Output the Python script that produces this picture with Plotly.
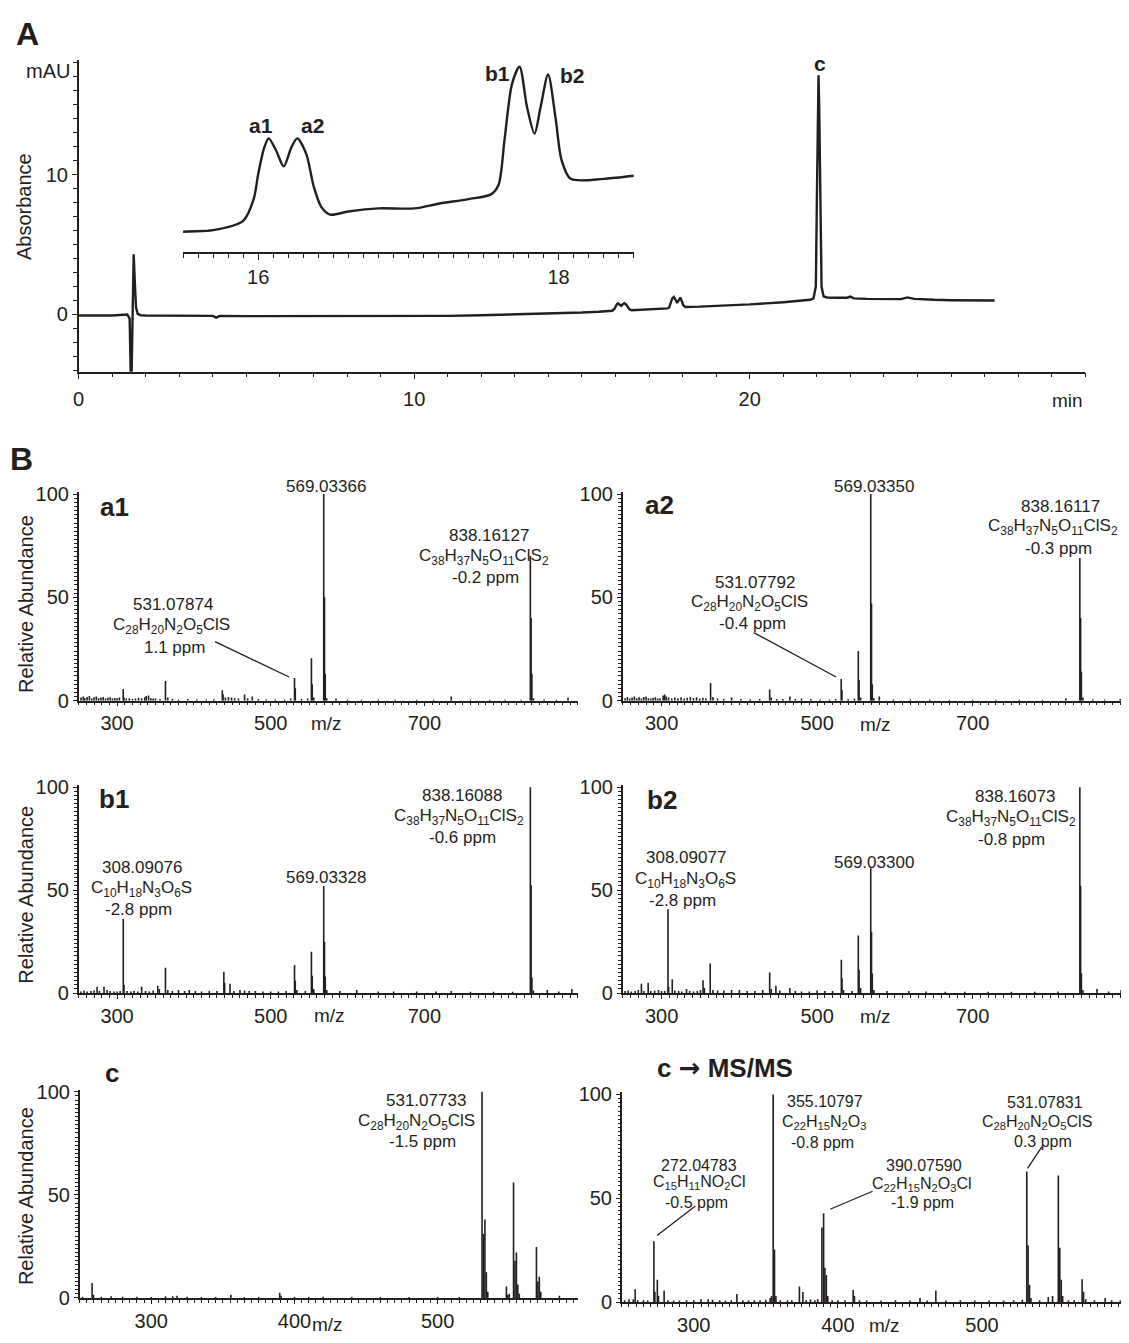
import plotly.graph_objects as go

W, H = 1129, 1343
OFF = 8  # page body margin of the html page
FONT = "Liberation Sans, Arial, Helvetica, sans-serif"
INK = "#231f20"

# ---------------- Panel A : UV chromatogram (min, mAU) ----------------
time_min = [0.0, 1.0, 1.45, 1.52, 1.565, 1.6, 1.64, 1.67, 1.71, 1.76, 1.85, 2.0, 3.0, 4.0, 4.1, 4.2,
            5.0, 6.0, 7.0, 8.0, 9.0, 10.0, 11.0, 12.0, 13.0, 14.0, 15.0, 15.5, 15.7, 15.9, 15.97,
            16.0, 16.04, 16.07, 16.12, 16.17, 16.22, 16.26, 16.32, 16.37, 16.42, 16.48, 16.6, 16.8,
            17.04, 17.2, 17.4, 17.55, 17.6, 17.64, 17.69, 17.74, 17.79, 17.84, 17.88, 17.93, 17.98,
            18.02, 18.08, 18.3, 18.5, 19.0, 20.0, 21.0, 21.5, 21.8, 21.9, 21.97, 22.0, 22.03, 22.05,
            22.07, 22.1, 22.14, 22.2, 22.3, 22.6, 22.9, 23.0, 23.1, 23.5, 24.0, 24.5, 24.7, 24.9,
            25.5, 26.0, 27.3]
absorbance_mau = [-0.07, -0.07, 0.0, -0.3, -6.0, 0.0, 4.3, 2.5, 0.5, 0.05, -0.05, -0.07, -0.08, -0.1, -0.22, -0.1,
                  -0.12, -0.12, -0.12, -0.12, -0.12, -0.12, -0.1, -0.05, 0.0, 0.08, 0.14, 0.20, 0.21, 0.27, 0.41,
                  0.57, 0.74, 0.80, 0.72, 0.62, 0.74, 0.80, 0.70, 0.49, 0.36, 0.31, 0.33, 0.35,
                  0.35, 0.38, 0.41, 0.44, 0.50, 0.79, 1.15, 1.26, 1.0, 0.83, 1.0, 1.21, 0.93,
                  0.66, 0.54, 0.54, 0.56, 0.62, 0.72, 0.88, 0.98, 1.05, 1.15, 2.0, 8.0, 15.0, 17.1,
                  15.0, 8.0, 2.0, 1.3, 1.22, 1.2, 1.2, 1.28, 1.15, 1.12, 1.1, 1.1, 1.22, 1.12,
                  1.05, 1.02, 1.0]
chrom_peak_labels = ["a1", "a2", "b1", "b2", "c"]
chrom_x_ticks = [0, 10, 20]
chrom_y_ticks = [0, 10]
inset_ticks = [16, 18]

# ---------------- Panel B : mass spectra (m/z, relative abundance) ----------------
a1_peaks = [(253, 1.5), (256, 2.0), (258, 1.2), (261, 1.8), (264, 2.2), (267, 1.0), (270, 1.6), (273, 2.0),
            (276, 1.2), (279, 1.5), (282, 1.8), (285, 1.0), (288, 1.4), (291, 1.6), (294, 1.1), (297, 1.3),
            (300, 1.2), (303, 1.5), (308, 5.7), (309, 1.5), (312, 1.0), (316, 1.2), (320, 0.8), (324, 1.0),
            (328, 1.4), (332, 1.2), (336, 1.6), (338, 2.2), (341, 2.5), (344, 1.2), (347, 1.0), (350, 1.0),
            (356, 0.8), (363, 9.5), (366, 1.5), (372, 0.8), (380, 0.6), (392, 0.8), (404, 0.6), (416, 0.6),
            (426, 0.7), (437, 5.0), (438, 3.0), (441, 1.5), (445, 1.8), (449, 1.5), (453, 1.2), (458, 1.0),
            (466, 3.0), (470, 1.2), (476, 2.0), (484, 0.8), (494, 0.6), (506, 0.6), (518, 0.6), (526, 1.0),
            (531, 11.0), (532, 6.0), (540, 0.8), (548, 1.0), (553, 20.5), (554, 8.0), (556, 1.5),
            (569, 100), (570, 50), (571, 13), (573, 1.2), (585, 1.0), (600, 0.6), (618, 0.5), (640, 0.6),
            (662, 0.5), (690, 0.5), (712, 0.5), (735, 2.0), (760, 0.5), (785, 0.5), (805, 0.5), (826, 0.5),
            (838, 70), (839, 40), (840, 13), (842, 1.2), (856, 0.6), (872, 0.5), (887, 1.5)]
a2_peaks = [(253, 1.2), (256, 1.8), (259, 1.0), (262, 1.5), (265, 2.0), (268, 1.2), (271, 1.6), (274, 1.0),
            (277, 1.8), (280, 2.0), (283, 1.2), (286, 1.0), (289, 1.4), (292, 1.6), (295, 1.0), (298, 1.2),
            (302, 2.5), (304, 3.0), (306, 2.0), (309, 1.5), (313, 1.0), (317, 1.5), (321, 1.2), (325, 1.6),
            (329, 1.0), (333, 1.4), (337, 1.8), (341, 1.2), (345, 1.6), (349, 1.0), (353, 1.4), (357, 1.0),
            (363, 8.5), (366, 1.8), (372, 1.0), (380, 0.8), (390, 1.5), (402, 0.8), (414, 0.7), (426, 0.8),
            (439, 5.4), (441, 1.5), (448, 0.8), (456, 0.8), (465, 2.0), (472, 0.8), (480, 1.0), (492, 0.8),
            (504, 0.6), (516, 0.6), (524, 0.8), (531, 10.5), (532, 5.0), (540, 0.8), (548, 1.0),
            (553, 24), (554, 10), (556, 1.5), (569, 100), (570, 47), (571, 8), (573, 1.2), (580, 2.0),
            (598, 0.6), (620, 0.6), (645, 0.6), (670, 0.5), (700, 0.5), (730, 0.5), (760, 0.5), (790, 0.5),
            (820, 1.2), (838, 69), (839, 40), (840, 14), (842, 1.5), (855, 0.6), (870, 0.6), (890, 0.8)]
b1_peaks = [(253, 0.8), (257, 1.2), (261, 0.8), (266, 1.0), (270, 1.2), (274, 3.0), (277, 1.0), (283, 3.0),
            (287, 1.5), (291, 1.0), (296, 0.8), (300, 0.8), (304, 1.0), (308.1, 36), (309, 4.0), (313, 1.0),
            (318, 0.8), (322, 1.0), (327, 0.8), (332, 3.0), (337, 1.0), (342, 0.8), (347, 1.2), (353, 3.5),
            (355, 2.0), (363, 12.3), (366, 1.5), (372, 1.0), (380, 1.5), (388, 1.0), (394, 1.5), (402, 1.0),
            (410, 0.8), (420, 1.0), (430, 1.0), (439, 10.4), (440, 5.0), (447, 4.5), (452, 1.0), (460, 1.5),
            (466, 1.2), (472, 1.0), (480, 1.0), (490, 0.8), (500, 0.8), (510, 0.8), (520, 1.0),
            (531, 13.6), (532, 6.0), (534, 1.5), (545, 1.0), (553, 20), (554, 8.4), (556, 2.0),
            (569, 52), (570, 24.8), (571, 8.0), (573, 1.5), (590, 1.0), (612, 1.5), (640, 0.8), (660, 0.8),
            (690, 0.8), (715, 0.8), (735, 1.0), (760, 0.6), (790, 0.6), (815, 0.6),
            (838, 100), (839, 52.3), (840, 7.6), (842, 1.2), (860, 1.5), (875, 0.8), (892, 2.0)]
b2_peaks = [(253, 1.0), (257, 1.2), (261, 0.8), (266, 1.0), (270, 1.5), (274, 4.5), (277, 1.0), (282.7, 5.0),
            (286, 1.0), (291, 1.2), (296, 1.5), (300, 1.0), (304, 1.0), (308.2, 40.7), (309, 3.0), (313.7, 6.7),
            (317, 1.2), (322, 1.0), (326, 0.8), (332, 2.0), (336, 1.0), (341, 0.8), (346, 1.0), (350, 1.5),
            (353.3, 6.2), (355, 2.5), (362.5, 14.3), (366, 1.5), (372, 1.2), (380, 1.2), (390, 1.5), (400, 1.5),
            (410, 1.0), (420, 1.0), (430, 1.5), (439, 10), (441, 2.0), (447, 3.5), (452, 1.2), (465, 2.5),
            (472, 1.0), (480, 0.8), (490, 0.8), (500, 1.2), (510, 1.0), (520, 1.0),
            (531.2, 16.2), (532, 7.2), (534, 1.5), (545, 1.0), (553, 27.9), (554, 11.3), (556, 2.5),
            (569, 60.6), (570, 29.8), (571, 9.5), (573, 1.5), (590, 1.0), (618, 1.0), (640, 0.8), (665, 0.6),
            (690, 0.6), (720, 0.6), (750, 0.6), (780, 0.6), (810, 0.8),
            (838, 100), (839, 52), (840, 9.6), (842, 1.5), (860, 2.0), (875, 0.8), (891, 1.5)]
c_peaks = [(252, 0.6), (258.7, 7.2), (259.7, 1.5), (265, 0.6), (272, 0.8), (280, 0.6), (290, 0.6), (300, 0.5),
           (310, 0.8), (315, 0.8), (318, 1.0), (325, 0.6), (335, 0.5), (345, 0.5), (355.6, 1.5), (365, 0.5),
           (375, 0.5), (389.7, 2.5), (390.7, 1.0), (400, 0.5), (410, 0.5), (420, 0.6), (440, 0.5), (460, 0.5),
           (480, 0.5), (500, 0.5), (515, 0.5),
           (531, 100), (532, 31), (533, 38), (534, 12.5), (535, 3),
           (548, 5.6), (549, 1.5), (550, 2.0),
           (553, 56), (554, 18), (555, 22), (556, 6.5), (557, 2),
           (569, 24.7), (570, 8), (571, 10.3), (572, 3), (585, 1.0)]
cms_peaks = [(252, 1.0), (255, 1.5), (258, 1.5), (259.3, 6.3), (261, 1.0), (265, 1.0), (268, 0.8),
             (272.3, 29.4), (273, 5), (274.7, 10.8), (275.5, 3), (279.4, 5.7), (282, 1.0), (286, 0.8),
             (290, 0.8), (295, 1.0), (300, 1.0), (305, 1.5), (310, 1.5), (313, 1.2), (318, 1.0), (322, 0.8),
             (326, 1.0), (329.9, 4.0), (334, 1.0), (338, 0.8), (342, 1.0), (346, 1.0), (350, 1.2), (353, 2.0),
             (354, 3.0), (355.1, 100), (356, 25.3), (357, 3.0), (360, 1.0), (365, 1.0), (368, 1.0),
             (373.3, 7.6), (375.7, 4.9), (378, 1.0), (381, 1.5), (384, 1.0), (386, 1.5),
             (388.9, 36), (390.1, 42.8), (391, 16.6), (392, 13.1), (393, 3), (396, 1.0), (400, 1.0),
             (405, 1.0), (410.6, 5.9), (411.5, 3), (415, 1.0), (420, 0.8), (430, 0.8), (440, 1.0), (450, 0.8),
             (457, 2.0), (462, 0.8), (468, 5.7), (475, 0.8), (485, 1.0), (495, 0.8), (505, 0.8), (515, 0.8),
             (522, 1.0), (528, 1.2), (531.1, 62.9), (532, 27.3), (533, 8.4), (534, 2.0), (540, 1.0),
             (546, 2.5), (549, 3.0), (553, 61), (554, 26.2), (555, 10.8), (556, 3.0), (560, 1.0), (564, 1.0),
             (569.5, 11.1), (570.5, 5.0), (572, 1.5), (578, 1.0), (585.5, 2.0), (590, 1.0), (596, 0.8)]

F838 = "C<sub>38</sub>H<sub>37</sub>N<sub>5</sub>O<sub>11</sub>ClS<sub>2</sub>"
F531 = "C<sub>28</sub>H<sub>20</sub>N<sub>2</sub>O<sub>5</sub>ClS"
F308 = "C<sub>10</sub>H<sub>18</sub>N<sub>3</sub>O<sub>6</sub>S"
F355 = "C<sub>22</sub>H<sub>15</sub>N<sub>2</sub>O<sub>3</sub>"
F272 = "C<sub>15</sub>H<sub>11</sub>NO<sub>2</sub>Cl"
F390 = "C<sub>22</sub>H<sub>15</sub>N<sub>2</sub>O<sub>3</sub>Cl"

a1_texts = ["569.03366", "838.16127", F838, "-0.2 ppm", "531.07874", F531, "1.1 ppm"]
a2_texts = ["569.03350", "838.16117", F838, "-0.3 ppm", "531.07792", F531, "-0.4 ppm"]
b1_texts = ["838.16088", F838, "-0.6 ppm", "569.03328", "308.09076", F308, "-2.8 ppm"]
b2_texts = ["838.16073", F838, "-0.8 ppm", "569.03300", "308.09077", F308, "-2.8 ppm"]
c_texts = ["531.07733", F531, "-1.5 ppm"]
cms_texts = ["355.10797", F355, "-0.8 ppm", "531.07831", F531, "0.3 ppm",
             "272.04783", F272, "-0.5 ppm", "390.07590", F390, "-1.9 ppm"]
panel_names = ["a1", "a2", "b1", "b2", "c",
               "c <span style='font-family:DejaVu Sans'>\u2192</span> MS/MS"]
ms_ticks_wide = [300, 500, 700]
ms_ticks_narrow = [300, 400, 500]
ab_ticks = [0, 50, 100]


def px(x):
    return (x - OFF) / W


def py(y):
    return 1 - (y - OFF) / H


def sticks(peaks):
    xs, ys = [], []
    for m, h in peaks:
        xs += [m, m, None]
        ys += [0, h, None]
    return xs, ys


fig = go.Figure()

# chromatogram + enlarged inset drawn from the same data
fig.add_trace(go.Scatter(x=time_min, y=absorbance_mau, mode="lines", xaxis="x", yaxis="y",
                         line=dict(color=INK, width=2.4), hoverinfo="skip"))
fig.add_trace(go.Scatter(x=time_min, y=absorbance_mau, mode="lines", xaxis="x2", yaxis="y2",
                         line=dict(color=INK, width=2.4, shape="spline", smoothing=0.8), hoverinfo="skip"))

spectra = [a1_peaks, a2_peaks, b1_peaks, b2_peaks, c_peaks, cms_peaks]
for i, pk in enumerate(spectra):
    xs, ys = sticks(pk)
    n = i + 3
    fig.add_trace(go.Scatter(x=xs, y=ys, mode="lines", xaxis=f"x{n}", yaxis=f"y{n}",
                             line=dict(color=INK, width=1.6), hoverinfo="skip"))

tickfont = dict(family=FONT, size=20, color=INK)


def axis(domain, rng, anchor, tickvals=None, dtick_minor=None, ticklen=5, minorlen=3,
         standoff=0, visible=True, linewidth=1.5):
    d = dict(domain=domain, range=rng, anchor=anchor, showgrid=False, zeroline=False, fixedrange=True,
             visible=visible)
    if visible:
        d.update(showline=True, linecolor=INK, linewidth=linewidth, ticks="outside", tickcolor=INK,
                 tickwidth=1.2, ticklen=ticklen, tickmode="array", tickvals=tickvals,
                 ticktext=[str(v) for v in tickvals],
                 tickfont=tickfont, ticklabelstandoff=standoff,
                 minor=dict(dtick=dtick_minor, tick0=0, ticks="outside", ticklen=minorlen,
                            tickcolor=INK, tickwidth=1, showgrid=False))
    return d


layout = dict(width=W, height=H, margin=dict(l=0, r=0, t=0, b=0), paper_bgcolor="white",
              plot_bgcolor="rgba(0,0,0,0)", showlegend=False)

# Panel A axes
layout["xaxis"] = axis([px(73), px(1085)], [0, 30], "y", chrom_x_ticks, 1, 6, 3.5, standoff=3)
layout["yaxis"] = axis([py(368), py(52)], [-4.085, 18.17], "x", chrom_y_ticks, 1, 5, 3.5)
layout["xaxis2"] = axis([px(178), px(631)], [15.5, 18.5], "y2", inset_ticks, 0.1, 6, 4)
layout["yaxis2"] = axis([py(247), py(40)], [0.0671, 1.377], "x2", visible=False)

# Panel B axes: (x-domain px, x-range, y-zero px, px per unit, ticks, minor)
spec_geo = [
    ((73, 575), (250, 900), 702.0, 2.097, ms_ticks_wide, 10),
    ((620, 1128), (250, 900), 702.0, 2.097, ms_ticks_wide, 10),
    ((73, 575), (250, 900), 998.8, 2.09, ms_ticks_wide, 10),
    ((620, 1128), (250, 900), 998.8, 2.09, ms_ticks_wide, 10),
    ((74, 575), (250, 598), 1308.3, 2.093, ms_ticks_narrow, 5),
    ((619, 1126), (250, 600), 1312.7, 2.11, ms_ticks_narrow, 5),
]
for i, (xd, xr, y0, sc, tv, mn) in enumerate(spec_geo):
    n = i + 3
    ytop = y0 - 101 * sc
    layout[f"xaxis{n}"] = axis([px(xd[0]), px(xd[1])], list(xr), f"y{n}", tv, mn, 4, 3)
    layout[f"yaxis{n}"] = axis([py(y0), py(ytop)], [0, 101], f"x{n}", ab_ticks, 2, 4, 2.5)

fig.update_layout(**layout)


def txt(s, x, y, size=17, bold=False, xanchor="center", angle=0):
    fig.add_annotation(text=f"<b>{s}</b>" if bold else s, x=px(x), y=py(y), xref="paper", yref="paper",
                       showarrow=False, xanchor=xanchor, yanchor="middle", textangle=angle,
                       font=dict(family=FONT, size=size, color=INK))


def leader(x0, y0, x1, y1):
    fig.add_shape(type="line", xref="paper", yref="paper", x0=px(x0), y0=py(y0), x1=px(x1), y1=py(y1),
                  line=dict(color=INK, width=1.3))


# Panel A texts
txt("A", 22, 25, 32, bold=True)
txt("mAU", 66, 63, 20, xanchor="right")
txt("Absorbance", 18, 200, 20, angle=-90)
txt("min", 1067, 397, 19)
for lab, (x, y) in zip(chrom_peak_labels, [(256, 118), (308, 118), (494, 65), (569, 67), (818, 55)]):
    txt(lab, x, y, 21, bold=True)

# Panel B texts
txt("B", 16, 457, 32, bold=True)
for y in (604, 899, 1205):
    txt("Relative Abundance", 20, y, 20, angle=-90)
for (x, y) in [(322.6, 725), (874.5, 726.7), (325, 1021.7), (874.5, 1023), (323.4, 1335), (882.8, 1336.7)]:
    txt("m/z", x, y, 19)
for lab, (x, y) in zip(panel_names, [(109, 505), (656.6, 503), (109, 801.7), (659, 803.3), (107, 1080),
                                     (723, 1075)]):
    txt(lab, x, y, 26, bold=True)

pos = {
    "a1": [(321.7, 485), (485.3, 534), (480.4, 556), (482, 577), (168.3, 604), (166.3, 626), (169, 648)],
    "a2": [(872.3, 485), (1060, 505), (1053, 526), (1058, 548), (752.5, 582), (747.5, 603), (750, 624)],
    "b1": [(458, 798), (455.3, 820), (459.3, 841), (321.7, 882), (136.3, 871), (135.8, 893), (133.2, 914)],
    "b2": [(1013.9, 799.3), (1010.5, 821), (1011, 842.5), (872.3, 866.7), (683.4, 861.7), (682.7, 884),
           (680.5, 905)],
    "c": [(421.7, 1108.3), (413.1, 1129.3), (419, 1150)],
    "cms": [(823.1, 1109), (822.8, 1130), (821.3, 1151), (1044.2, 1110), (1036, 1130), (1042.5, 1149),
            (696.6, 1174), (696.9, 1191.5), (694, 1211), (923, 1174), (920.8, 1193), (921.2, 1211)],
}
for texts, key in [(a1_texts, "a1"), (a2_texts, "a2"), (b1_texts, "b1"), (b2_texts, "b2"),
                   (c_texts, "c"), (cms_texts, "cms")]:
    size = 16 if key == "cms" else 17
    for s, (x, y) in zip(texts, pos[key]):
        txt(s, x, y, size)

leader(210.1, 642, 284.6, 678)
leader(751.8, 633, 834.5, 678)
leader(1041.3, 1155, 1027, 1176.7)
leader(693, 1215, 654.5, 1245)
leader(871.2, 1200, 828.5, 1218.3)

fig.write_html("out.html")
